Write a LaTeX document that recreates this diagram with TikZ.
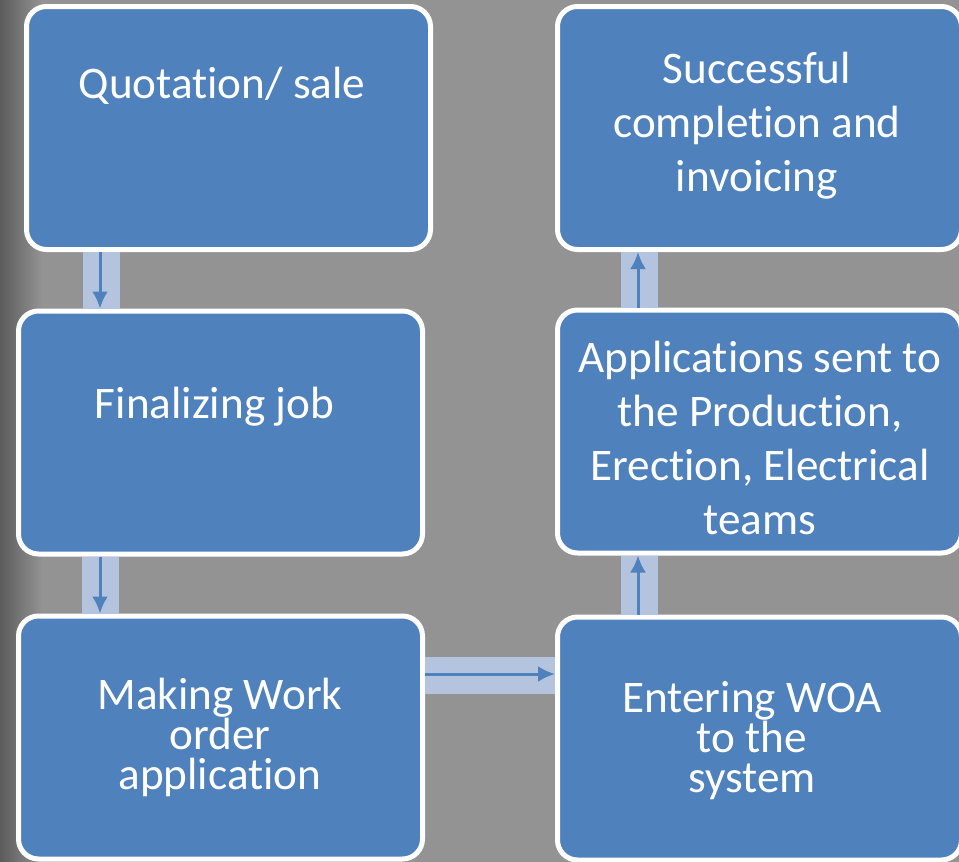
\documentclass[tikz,border=0pt]{standalone}
\usepackage{fontspec}
\setmainfont{Carlito}[Ligatures={NoCommon,NoRequired}]
\usetikzlibrary{arrows.meta}
\definecolor{boxblue}{RGB}{79,129,189}
\definecolor{barblue}{RGB}{180,196,222}
\definecolor{bggray}{RGB}{147,147,147}
\definecolor{edgegray}{RGB}{92,92,92}
\begin{document}
\begin{tikzpicture}[x=.5pt,y=-.5pt,>={Latex[length=8.5pt,width=8pt]},
	stepbox/.style={draw=white,line width=2.5pt,fill=boxblue,rounded corners=10pt,
		minimum width=202pt,minimum height=121.5pt,inner sep=0pt},
	boxtext/.style={text=white,align=center,font=\fontsize{22.6}{27}\selectfont},
	tight/.style={font=\fontsize{22.6}{20}\selectfont},
	bar/.style={draw=barblue,line width=18.5pt},
	flow/.style={->,draw=boxblue,line width=1.5pt}]
	\useasboundingbox (0,0) rectangle (959,862);
	\clip (0,0) rectangle (959,862);
	% background
	\fill[bggray] (0,0) rectangle (959,862);
	\shade[left color=edgegray,right color=bggray] (0,0) rectangle (42,862);
	% boxes
	\node[stepbox] (quote) at (228.5,128) {};
	\node[stepbox] (final) at (220.5,432.5) {};
	\node[stepbox] (woa) at (220.5,737.5) {};
	\node[stepbox] (enter) at (759.5,738.5) {};
	\node[stepbox] (teams) at (759.5,431.5) {};
	\node[stepbox] (invoice) at (759.5,128) {};
	% texts
	\node[boxtext] (quotetxt) at (222,86) {Quotation/ sale};
	\node[boxtext] (finaltxt) at (214.5,407) {Finalizing job};
	\node[boxtext,tight] (woatxt) at (220,737) {Making Work\\order\\application};
	\node[boxtext,tight] (entertxt) at (752,741) {Entering WOA\\to the\\system};
	\node[boxtext] (teamstxt) at (760,438) {Applications sent to\\the Production,\\Erection, Electrical\\teams};
	\node[boxtext] (invoicetxt) at (757,126) {Successful\\completion and\\invoicing};
	% connectors
	\draw[bar] (quote.south -| 101,0) -- (final.north -| 101,0);
	\draw[bar] (final.south -| 100,0) -- (woa.north -| 100,0);
	\draw[bar] (woa.east |- 0,675) -- (enter.west |- 0,675);
	\draw[bar] (enter.north -| 639.5,0) -- (teams.south -| 639.5,0);
	\draw[bar] (teams.north -| 639.5,0) -- (invoice.south -| 639.5,0);
	\draw[flow] (quote.south -| 100,0) -- (final.north -| 100,0);
	\draw[flow] (final.south -| 100,0) -- (woa.north -| 100,0);
	\draw[flow] (woa.east |- 0,674) -- (enter.west |- 0,674);
	\draw[flow] (enter.north -| 638,0) -- (teams.south -| 638,0);
	\draw[flow] (teams.north -| 638,0) -- (invoice.south -| 638,0);
\end{tikzpicture}
\end{document}
